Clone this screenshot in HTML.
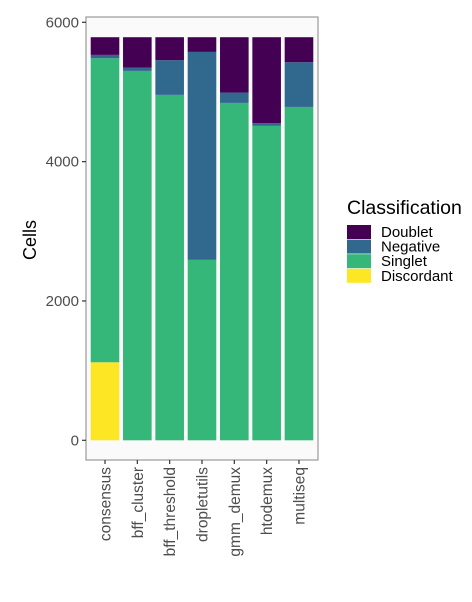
<!DOCTYPE html>
<html><head><meta charset="utf-8"><style>body{margin:0;background:#fff}svg{display:block;font-family:"Liberation Sans",Arial,sans-serif}</style></head>
<body>
<svg id="chart" width="472" height="602">
<rect x="86" y="17" width="232" height="443" fill="#fafafa" stroke="#999" stroke-width="1.2"/>
<g id="bars"></g><g id="yaxis"></g><g id="xaxis"></g>
<text transform="translate(36,240) rotate(-90)" text-anchor="middle" font-size="18" fill="#000">Cells</text>
<g id="legend"></g>
</svg>
<script>
const categories=["consensus","bff_cluster","bff_threshold","dropletutils","gmm_demux","htodemux","multiseq"];
const classes=["Doublet","Negative","Singlet","Discordant"];
const colors=["#440154","#31688E","#35B779","#FDE725"];
const discordant=[1120,0,0,0,0,0,0];
const singlet=[4364,5302,4958,2590,4843,4513,4785];
const negative=[48,48,498,2985,148,38,642];
const doublet=[254,436,330,211,795,1235,359];
const yTicks=[0,2000,4000,6000];
const NS="http://www.w3.org/2000/svg";
const y=v=>440.3-v*(418/6000);
const x=i=>105+i*32.33;
const bw=28.6;
function mk(t,a,p){const e=document.createElementNS(NS,t);for(const k in a)e.setAttribute(k,a[k]);p.appendChild(e);return e;}
const bars=document.getElementById('bars');
categories.forEach((c,i)=>{
  const stack=[[discordant[i],3,'discordant'],[singlet[i],2,'singlet'],[negative[i],1,'negative'],[doublet[i],0,'doublet']];
  let base=0;
  stack.forEach(([v,ci,n])=>{
    if(v<=0)return;
    const r=mk('rect',{x:x(i)-bw/2,y:y(base+v),width:bw,height:y(base)-y(base+v),fill:colors[ci]},bars);
    
    
    base+=v;
  });
});
const ya=document.getElementById('yaxis');
yTicks.forEach(t=>{
  const l=mk('line',{x1:82,x2:86,y1:y(t),y2:y(t),stroke:'#333','stroke-width':1.2},ya);
  
  
  const tx=mk('text',{x:79,y:y(t)+5,'text-anchor':'end','font-size':15,fill:'#4d4d4d'},ya);
  tx.textContent=t;
  
  
});
const xa=document.getElementById('xaxis');
categories.forEach((c,i)=>{
  const l=mk('line',{x1:x(i),x2:x(i),y1:460,y2:464,stroke:'#333','stroke-width':1.2},xa);
  
  
  const tx=mk('text',{transform:`translate(${x(i)+5.5},467) rotate(-90)`,'text-anchor':'end','font-size':15.5,fill:'#4d4d4d'},xa);
  tx.textContent=c;
  
  
});
const lg=document.getElementById('legend');
const tt=mk('text',{x:347,y:214,'font-size':19.5,fill:'#000'},lg);
tt.textContent='Classification';


classes.forEach((c,i)=>{
  const r=mk('rect',{x:347,y:225+i*14.6,width:24,height:14,fill:colors[i]},lg);
  
  
  const t=mk('text',{x:381,y:237+i*14.6,'font-size':15,fill:'#000'},lg);
  t.textContent=c;
  
  
});
</script>
</body></html>
